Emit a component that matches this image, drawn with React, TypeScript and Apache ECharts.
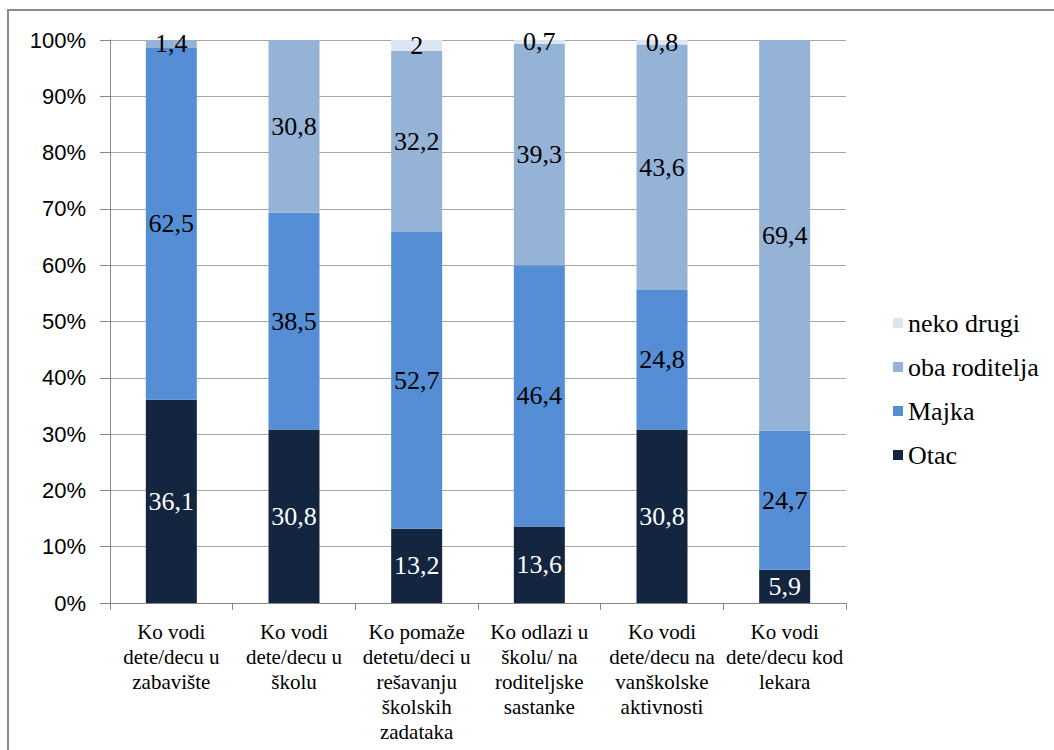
import React, { useEffect, useRef } from "react";
import * as echarts from "echarts";

const categories = [
  "Ko vodi\ndete/decu u\nzabavište",
  "Ko vodi\ndete/decu u\nškolu",
  "Ko pomaže\ndetetu/deci u\nrešavanju\nškolskih\nzadataka",
  "Ko odlazi u\nškolu/ na\nroditeljske\nsastanke",
  "Ko vodi\ndete/decu na\nvanškolske\naktivnosti",
  "Ko vodi\ndete/decu kod\nlekara",
];
const otac = [36.1, 30.8, 13.2, 13.6, 30.8, 5.9];
const majka = [62.5, 38.5, 52.7, 46.4, 24.8, 24.7];
const obaRoditelja = [1.4, 30.8, 32.2, 39.3, 43.6, 69.4];
const nekoDrugi = [null, null, 2, 0.7, 0.8, null];
const yTicks = [0, 10, 20, 30, 40, 50, 60, 70, 80, 90, 100];

const fmt = (v: number) => String(v).replace(".", ",");

export default function App() {
  const ref = useRef<HTMLDivElement>(null);
  useEffect(() => {
    if (!ref.current) return;
    const chart = echarts.init(ref.current, null, { renderer: "svg" });
    const serif = "Liberation Serif";
    const sans = "Liberation Sans";
    const mkSeries = (name: string, data: (number | null)[], color: string, labelColor: string) => ({
      name,
      type: "bar",
      stack: "total",
      barWidth: 51,
      data,
      itemStyle: { color },
      label: {
        show: true,
        position: "inside",
        color: labelColor,
        fontFamily: serif,
        fontSize: 26,
        formatter: (p: any) => (p.value == null ? "" : fmt(p.value)),
      },
    });
    chart.setOption({
      animation: false,
      backgroundColor: "#fff",
      textStyle: { fontFamily: serif },
      graphic: [
        {
          type: "rect",
          shape: { x: 8, y: 10, width: 1200, height: 900 },
          style: { fill: "none", stroke: "#8a8a8a", lineWidth: 2 },
          silent: true,
        },
      ],
      grid: { left: 110, right: 208, top: 40, bottom: 147 },
      legend: {
        orient: "vertical",
        left: 888,
        top: 305,
        itemWidth: 10,
        itemHeight: 10,
        itemGap: 18,
        icon: "rect",
        data: ["neko drugi", "oba roditelja", "Majka", "Otac"],
        textStyle: { fontFamily: serif, fontSize: 26, lineHeight: 26, color: "#000" },
      },
      xAxis: {
        type: "category",
        data: categories,
        axisLine: { lineStyle: { color: "#868686", width: 1 } },
        axisTick: { show: true, length: 7, lineStyle: { color: "#868686" } },
        axisLabel: {
          fontFamily: serif,
          fontSize: 21,
          lineHeight: 25,
          color: "#000",
          margin: 16,
          interval: 0,
        },
      },
      yAxis: {
        type: "value",
        min: 0,
        max: 100,
        interval: 10,
        axisLine: { show: true, lineStyle: { color: "#868686" } },
        axisTick: { show: true, length: 10, lineStyle: { color: "#868686" } },
        splitLine: { lineStyle: { color: "#a6a6a6" } },
        axisLabel: {
          fontFamily: sans,
          fontSize: 22,
          color: "#000",
          margin: 24,
          formatter: (v: number) => (yTicks.includes(v) ? v + "%" : ""),
        },
      },
      series: [
        mkSeries("Otac", otac, "#13253f", "#ffffff"),
        mkSeries("Majka", majka, "#558ed5", "#000000"),
        mkSeries("oba roditelja", obaRoditelja, "#95b3d7", "#000000"),
        mkSeries("neko drugi", nekoDrugi, "#dce6f2", "#000000"),
      ],
    });
    return () => chart.dispose();
  }, []);
  return (
    <div
      ref={ref}
      style={{ position: "absolute", left: 0, top: 0, width: 1054, height: 750 }}
    />
  );
}
